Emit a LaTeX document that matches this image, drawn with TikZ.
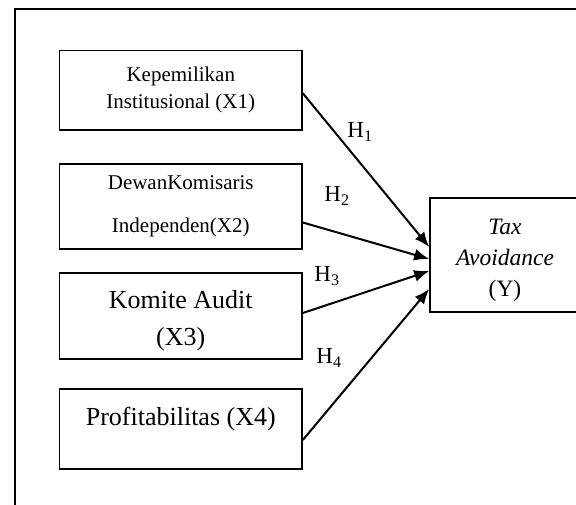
\documentclass[tikz,border=0pt]{standalone}
\usepackage{fontspec}
\setmainfont{Liberation Serif}
\usetikzlibrary{arrows.meta}

\begin{document}
\begin{tikzpicture}[x=1pt,y=-1pt]
\tikzset{var/.style = {shape=rectangle,draw,line width=1.6pt,inner sep=0pt,
  minimum width=242.5pt,align=center}}
\tikzset{dep/.style = {shape=rectangle,draw,line width=1.6pt,inner sep=0pt,
  minimum width=150pt,minimum height=114pt,align=center}}
\tikzset{edge/.style = {-{Latex[length=15pt,width=12pt]},line width=2pt}}
\tikzset{hyp/.style = {inner sep=0pt,font=\fontsize{23}{25}\selectfont}}
\useasboundingbox (0,0) rectangle (576,504);
% frame
\draw[line width=1.6pt] (15,9) rectangle (620,540);
% vertices
\node[var,minimum height=79.5pt,font=\fontsize{21}{27}\selectfont] (x1) at (180.75,90.25)
  {Kepemilikan\\Institusional (X1)};
\node[var,minimum height=85pt,font=\fontsize{21}{43}\selectfont] (x2) at (180.75,206.5)
  {DewanKomisaris\\Independen(X2)};
\node[var,minimum height=86pt,font=\fontsize{26}{37}\selectfont] (x3) at (180.75,316)
  {\rule{0pt}{28pt}Komite Audit\\(X3)};
\node[var,minimum height=80pt,font=\fontsize{26}{25}\selectfont] (x4) at (180.75,429)
  {Profitabilitas (X4)\\\mbox{}};
\node[dep,font=\fontsize{23.5}{31}\selectfont] (y) at (505,255)
  {\rule{0pt}{26pt}\textit{Tax}\\\textit{Avoidance}\\(Y)};
% labels
\node[hyp] (h1) at (360,132) {H\textsubscript{1}};
\node[hyp] (h2) at (337,196) {H\textsubscript{2}};
\node[hyp] (h3) at (327,276) {H\textsubscript{3}};
\node[hyp] (h4) at (329,358) {H\textsubscript{4}};
% edges
\draw[edge] ([yshift=-3pt]x1.east) -- ([yshift=8pt]y.west);
\draw[edge] ([yshift=-16pt]x2.east) -- ([yshift=-4pt]y.west);
\draw[edge] ([yshift=3pt]x3.east) -- ([yshift=-16pt]y.west);
\draw[edge] ([yshift=-11pt]x4.east) -- ([yshift=-34pt]y.west);
\end{tikzpicture}
\end{document}
